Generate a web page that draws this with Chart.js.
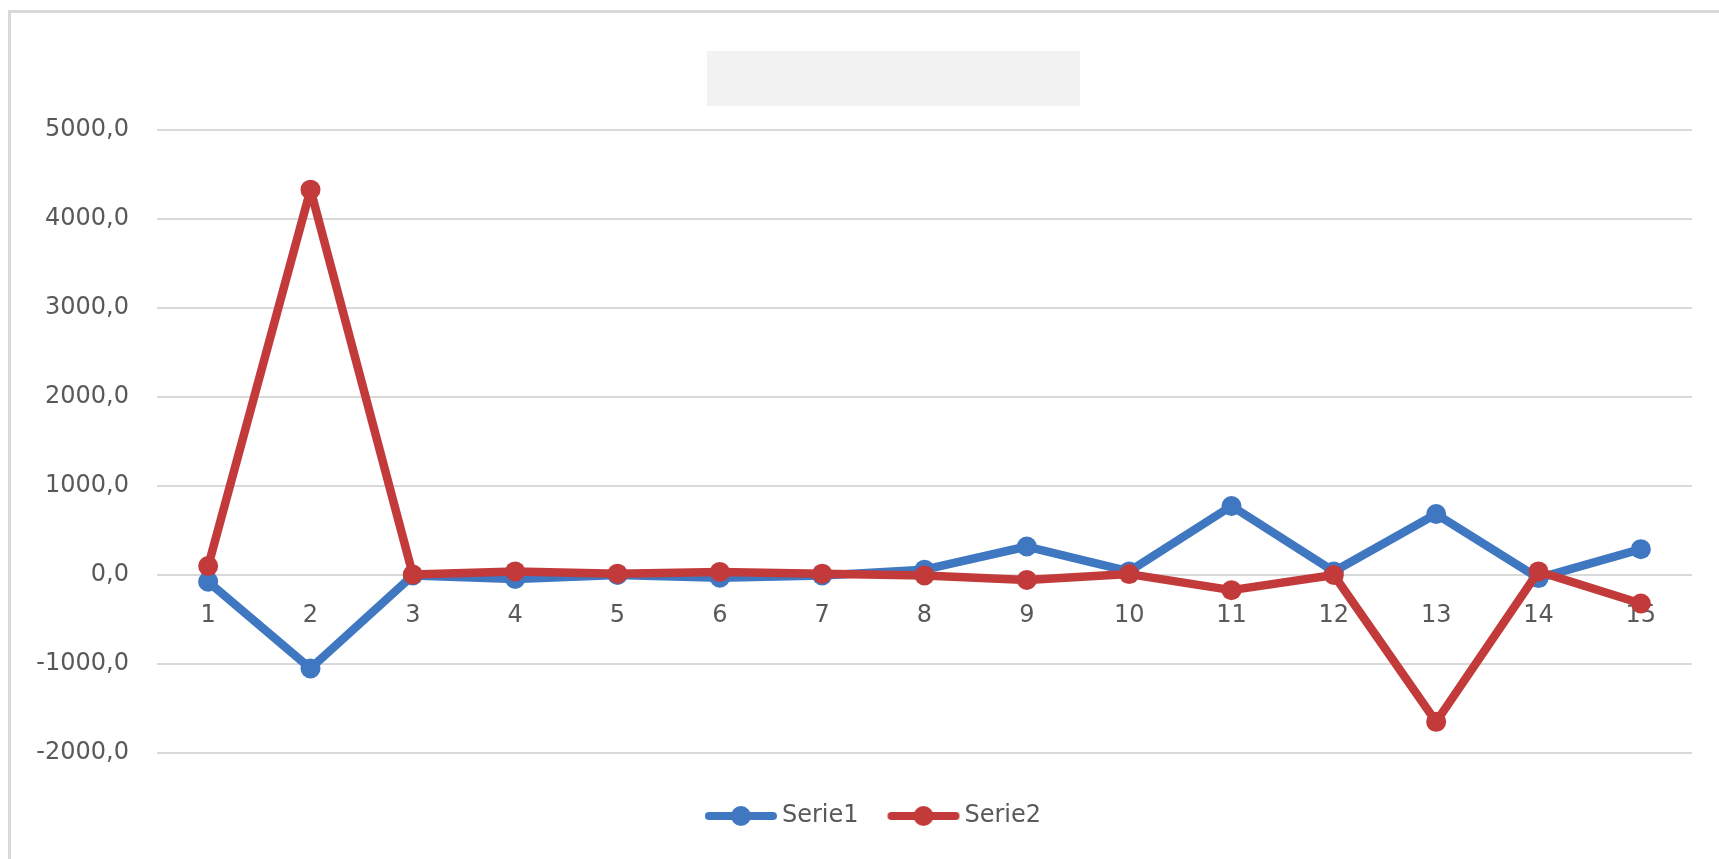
<!DOCTYPE html>
<html>
<head>
<meta charset="utf-8">
<script src="https://cdn.jsdelivr.net/npm/chart.js@4.4.1/dist/chart.umd.min.js"></script>
<style>
  html, body { margin: 0; padding: 0; background: #ffffff; overflow: hidden; }
  #wrap { position: relative; width: 1719px; height: 859px; }
  #frame { position: absolute; left: 8px; top: 10px; right: -10px; bottom: -10px;
           border-left: 3px solid #d9d9d9; border-top: 3px solid #d9d9d9; box-sizing: border-box; }
  #titlebox { position: absolute; left: 707px; top: 51px; width: 373px; height: 55px; background: #f2f2f2; }
  canvas { position: absolute; left: 0; top: 0; }
</style>
</head>
<body>
<div id="wrap">
  <div id="frame"></div>
  <div id="titlebox"></div>
  <canvas id="c" width="1719" height="859"></canvas>
</div>
<script>
const categories = ['1','2','3','4','5','6','7','8','9','10','11','12','13','14','15'];
const serie1 = [-75, -1050, -5, -45, 0, -30, -5, 60, 320, 40, 775, 40, 685, -35, 290];
const serie2 = [100, 4330, 5, 40, 15, 35, 15, -5, -55, 10, -170, 0, -1650, 40, -320];
const seriesNames = ['Serie1', 'Serie2'];
const yTickValues = [-2000, -1000, 0, 1000, 2000, 3000, 4000, 5000];
const yTickLabels = ['-2000,0', '-1000,0', '0,0', '1000,0', '2000,0', '3000,0', '4000,0', '5000,0'];

const BLUE = '#3f77c1';
const RED = '#c23b3a';
const FONT = "'DejaVu Sans', sans-serif";
const FSIZE = 24;

// layout geometry
const PAD_LEFT = 20;          // layout padding left
const PAD_RIGHT = 12;         // layout padding right
const PLOT_LEFT = 157;        // left edge of plot area
const PLOT_RIGHT = 1692;      // right edge of plot area
const PLOT_BOTTOM = 753;      // bottom of plot area
const LEG_TOP = 794;          // top of legend box
// legend geometry
const LEG_PAD = 10;
const ICON_OFF = 19;          // where the legend line begins relative to the item x
const ICON_LEN = 72;          // length of the legend line
const ICON_GAP = 5;           // gap between line end and text
const BOXW = ICON_OFF + ICON_LEN + ICON_GAP - FSIZE / 2;

function legendIcon(color) {
  const cv = document.createElement('canvas');
  cv.width = 240; cv.height = 24;
  const g = cv.getContext('2d');
  const cx = cv.width / 2;
  const x0 = cx - BOXW / 2 + ICON_OFF;
  const x1 = x0 + ICON_LEN;
  g.strokeStyle = color; g.lineWidth = 8; g.lineCap = 'round';
  g.beginPath(); g.moveTo(x0 + 4, 12); g.lineTo(x1 - 4, 12); g.stroke();
  g.fillStyle = color;
  g.beginPath(); g.arc((x0 + x1) / 2, 12, 10, 0, Math.PI * 2); g.fill();
  return cv;
}

new Chart(document.getElementById('c'), {
  type: 'line',
  data: {
    labels: categories,
    datasets: [
      { label: seriesNames[0], data: serie1, borderColor: BLUE, backgroundColor: BLUE,
        borderWidth: 8.5, borderJoinStyle: 'round', borderCapStyle: 'round',
        pointRadius: 10, pointBorderWidth: 0, pointBackgroundColor: BLUE,
        tension: 0, order: 2, xAxisID: 'x', yAxisID: 'y' },
      { label: seriesNames[1], data: serie2, borderColor: RED, backgroundColor: RED,
        borderWidth: 8.5, borderJoinStyle: 'round', borderCapStyle: 'round',
        pointRadius: 10, pointBorderWidth: 0, pointBackgroundColor: RED,
        tension: 0, order: 1, xAxisID: 'x', yAxisID: 'y' }
    ]
  },
  options: {
    responsive: false,
    animation: false,
    devicePixelRatio: 1,
    layout: { padding: { left: PAD_LEFT, right: PAD_RIGHT, top: 130, bottom: 859 - LEG_TOP - (FSIZE + LEG_PAD + 10) } },
    plugins: {
      title: { display: false },
      tooltip: { enabled: false },
      legend: {
        position: 'bottom',
        labels: {
          usePointStyle: true,
          pointStyleWidth: BOXW,
          padding: LEG_PAD,
          color: '#595959',
          font: { family: FONT, size: FSIZE },
          generateLabels: (chart) => chart.data.datasets.map((ds, i) => ({
            text: ds.label,
            pointStyle: legendIcon(ds.borderColor),
            fillStyle: ds.borderColor,
            strokeStyle: ds.borderColor,
            lineWidth: 0,
            fontColor: '#595959',
            hidden: false,
            datasetIndex: i
          }))
        }
      }
    },
    scales: {
      x: {
        type: 'category',
        offset: true,
        position: { y: 0 },
        grid: { display: false, drawTicks: false },
        border: { display: false },
        ticks: { color: '#595959', font: { family: FONT, size: FSIZE }, padding: 26, maxRotation: 0, autoSkip: false }
      },
      xGap: {
        type: 'category',
        position: 'bottom',
        grid: { display: false, drawTicks: false },
        border: { display: false },
        ticks: { display: false },
        afterFit: (s) => { s.height = LEG_TOP - PLOT_BOTTOM; }
      },
      y: {
        min: -2000, max: 5000,
        position: 'left',
        afterFit: (s) => { s.width = PLOT_LEFT - PAD_LEFT; },
        afterBuildTicks: (s) => { s.ticks = yTickValues.map(v => ({ value: v })); },
        grid: { color: '#d9d9d9', lineWidth: 2, drawTicks: false },
        border: { display: false },
        ticks: {
          color: '#595959', font: { family: FONT, size: FSIZE }, padding: 28,
          callback: (v) => { const i = yTickValues.indexOf(v); return i >= 0 ? yTickLabels[i] : ''; }
        }
      },
      yGap: {
        type: 'linear',
        position: 'right',
        grid: { display: false, drawTicks: false },
        border: { display: false },
        ticks: { display: false },
        afterFit: (s) => { s.width = 1719 - PAD_RIGHT - PLOT_RIGHT; }
      }
    }
  }
});
</script>
</body>
</html>
